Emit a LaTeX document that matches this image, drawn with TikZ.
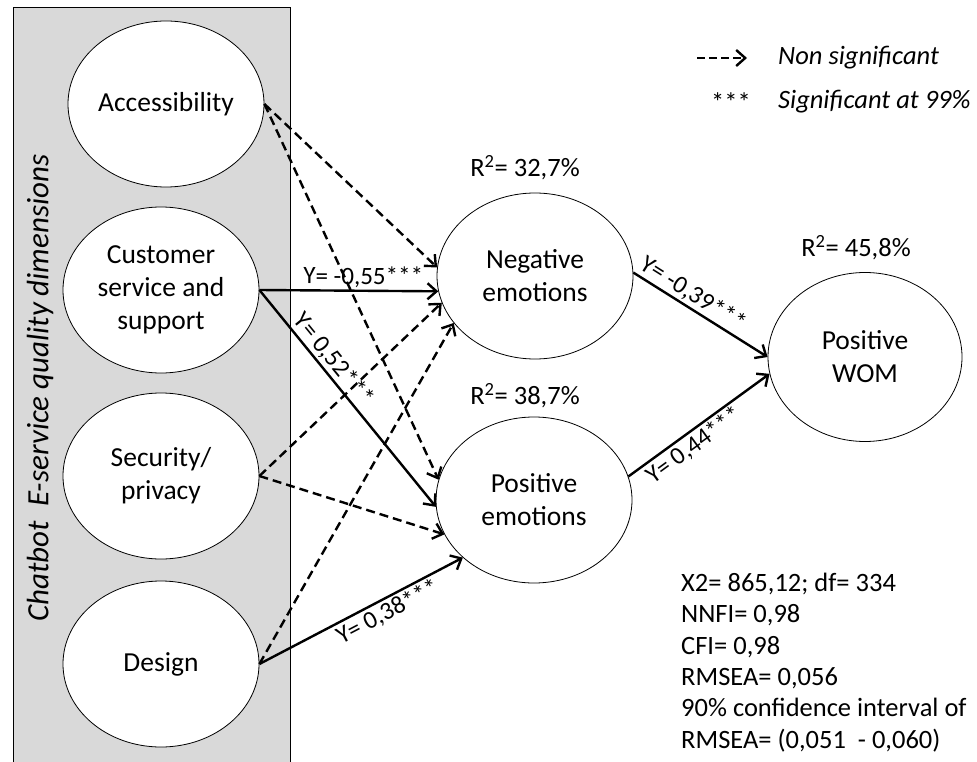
\documentclass[tikz,border=0pt]{standalone}
\usepackage{fontspec}
\setmainfont{Carlito}
\usepackage{xcolor}
\usepackage{tikz}
\usetikzlibrary{shapes.geometric, arrows.meta}

\definecolor{panelgray}{RGB}{217,217,217}

\begin{document}
\begin{tikzpicture}[x=1pt, y=-1pt,
    dim/.style={draw, ellipse, fill=white, line width=0.8pt, minimum width=196pt, minimum height=166pt, inner sep=0pt, align=center, font=\fontsize{27.5}{33}\selectfont},
    lat/.style={dim},
    sigarrow/.style={line width=2.4pt, -{Straight Barb[length=9pt, width=16pt]}},
    nsarrow/.style={sigarrow, dash pattern=on 9pt off 5pt},
    coef/.style={font=\fontsize{25}{30}\selectfont, sloped, inner sep=2pt},
    txt/.style={font=\fontsize{26.5}{31.3}\selectfont, inner sep=0pt}]
    \useasboundingbox (0,0) rectangle (977,762);

    % Dimensions panel
    \fill[panelgray] (13,7) rectangle (290,762);
    \draw[line width=0.8pt] (13,762) |- (290,7) -- (290,762);
    \node[rotate=90, font=\itshape\fontsize{31}{37}\selectfont] (paneltitle) at (40,388) {Chatbot\ \ E-service quality dimensions};

    % Quality dimensions
    \foreach \n/\x/\y/\t in {acc/166/104/Accessibility, cust/161/290/{Customer\\service and\\support}, sec/161/476/{Security/\\privacy}, des/161/664/Design} {
        \node[dim] (\n) at (\x,\y) {\t};
    }

    % Emotions and WOM
    \node[lat] (neg) at (535,276) {Negative\\emotions};
    \node[lat] (pos) at (534,500) {Positive\\emotions};
    \node[lat, minimum width=194pt, minimum height=169pt] (wom) at (865,357) {Positive\\WOM};

    \node[txt] (r2neg) at (525,168) {R\textsuperscript{2}= 32,7\%};
    \node[txt] (r2pos) at (525,396) {R\textsuperscript{2}= 38,7\%};
    \node[txt] (r2wom) at (856,248) {R\textsuperscript{2}= 45,8\%};

    % Non significant paths
    \foreach \s/\t in {acc/neg.175, sec/neg.196, des/neg.210, acc/pos.168, sec/pos.201} {
        \draw[nsarrow] (\s.east) -- (\t);
    }

    % Significant paths
    \draw[sigarrow] (cust.east) -- (neg.189) node[coef, above, pos=0.58] {Y= -0,55***};
    \draw[sigarrow] (cust.east) -- (pos.184) node[coef, above, pos=0.36] {Y= 0,52***};
    \draw[sigarrow] (des.east) -- (pos.219) node[coef, below, pos=0.6] {Y= 0,38***};
    \draw[sigarrow] (neg.2) -- (wom.180) node[coef, above, pos=0.39] {Y= -0,39***};
    \draw[sigarrow] (pos.14) -- (wom.190) node[coef, below, pos=0.41] {Y= 0,44***};

    % Legend
    \coordinate (lgs) at (697,58);
    \coordinate (lge) at (747,58);
    \draw[nsarrow, dash pattern=on 8pt off 4pt] (lgs) -- (lge);
    \node[txt, anchor=west, font=\itshape\fontsize{26.5}{31}\selectfont] (nslabel) at (778,58) {Non significant};
    \node[txt] (stars) at (731,102) {***};
    \node[txt, anchor=west, font=\itshape\fontsize{26.5}{31}\selectfont] (siglabel) at (778,102) {Significant at 99\%};

    % Fit indices
    \node[txt, anchor=north west, align=left] (gof) at (681,573) {X2= 865,12; df= 334\\NNFI= 0,98\\CFI= 0,98\\RMSEA= 0,056\\90\% confidence interval of\\RMSEA= (0,051\ \ - 0,060)};
\end{tikzpicture}
\end{document}
